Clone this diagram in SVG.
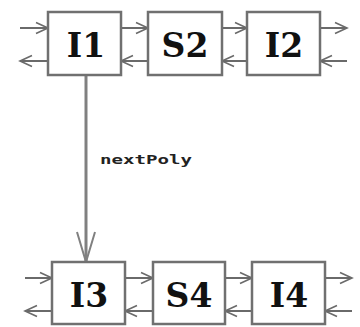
<svg xmlns="http://www.w3.org/2000/svg" width="360" height="327" viewBox="0 0 360 327">
<style>
.box{fill:#fff;stroke:#707070;stroke-width:2.5}
.lbl{font-family:"DejaVu Serif","Liberation Serif",serif;font-weight:bold;font-size:33px;fill:#111;text-anchor:middle}
.c{stroke:#6a6a6a;stroke-width:2;fill:none}
.v{stroke:#808080;stroke-width:3;fill:none}
.note{font-family:"DejaVu Sans Mono","Liberation Mono",monospace;font-weight:bold;font-size:13px;fill:#222}
</style>
<defs>
<marker id="ah" markerUnits="userSpaceOnUse" markerWidth="16" markerHeight="14" refX="13" refY="7" orient="auto">
<path d="M1,1.5 L13,7 L1,12.5" fill="none" stroke="#6a6a6a" stroke-width="1.6"/>
</marker>
<marker id="vh" markerUnits="userSpaceOnUse" markerWidth="34" markerHeight="22" refX="31" refY="11" orient="auto">
<path d="M1,2 L31,11 L1,20" fill="none" stroke="#808080" stroke-width="2"/>
</marker>
</defs>
<g id="connectors">
<line class="c" x1="20" y1="28" x2="48" y2="28" marker-end="url(#ah)"/>
<line class="c" x1="48" y1="61" x2="20" y2="61" marker-end="url(#ah)"/>
<line class="c" x1="121" y1="28" x2="148" y2="28" marker-end="url(#ah)"/>
<line class="c" x1="148" y1="61" x2="121" y2="61" marker-end="url(#ah)"/>
<line class="c" x1="222" y1="28" x2="247" y2="28" marker-end="url(#ah)"/>
<line class="c" x1="247" y1="61" x2="222" y2="61" marker-end="url(#ah)"/>
<line class="c" x1="320" y1="28" x2="347" y2="28" marker-end="url(#ah)"/>
<line class="c" x1="347" y1="61" x2="320" y2="61" marker-end="url(#ah)"/>
<line class="c" x1="25" y1="278" x2="52" y2="278" marker-end="url(#ah)"/>
<line class="c" x1="52" y1="311" x2="25" y2="311" marker-end="url(#ah)"/>
<line class="c" x1="125" y1="278" x2="153" y2="278" marker-end="url(#ah)"/>
<line class="c" x1="153" y1="311" x2="125" y2="311" marker-end="url(#ah)"/>
<line class="c" x1="225" y1="278" x2="252" y2="278" marker-end="url(#ah)"/>
<line class="c" x1="252" y1="311" x2="225" y2="311" marker-end="url(#ah)"/>
<line class="c" x1="325" y1="278" x2="352" y2="278" marker-end="url(#ah)"/>
<line class="c" x1="352" y1="311" x2="325" y2="311" marker-end="url(#ah)"/>
<line class="v" x1="86" y1="75" x2="86" y2="262" marker-end="url(#vh)"/>
<text class="note" x="100" y="164" textLength="92" lengthAdjust="spacingAndGlyphs">nextPoly</text>
</g>
<g id="I1"><rect class="box" x="48" y="12" width="73" height="63"/><text class="lbl" x="86" y="57">I1</text></g>
<g id="S2"><rect class="box" x="148" y="12" width="74" height="63"/><text class="lbl" x="185" y="57">S2</text></g>
<g id="I2"><rect class="box" x="247" y="12" width="73" height="63"/><text class="lbl" x="284" y="57">I2</text></g>
<g id="I3"><rect class="box" x="52" y="262" width="73" height="62"/><text class="lbl" x="89" y="307">I3</text></g>
<g id="S4"><rect class="box" x="153" y="262" width="72" height="62"/><text class="lbl" x="189" y="307">S4</text></g>
<g id="I4"><rect class="box" x="252" y="262" width="73" height="62"/><text class="lbl" x="289" y="307">I4</text></g>
</svg>
